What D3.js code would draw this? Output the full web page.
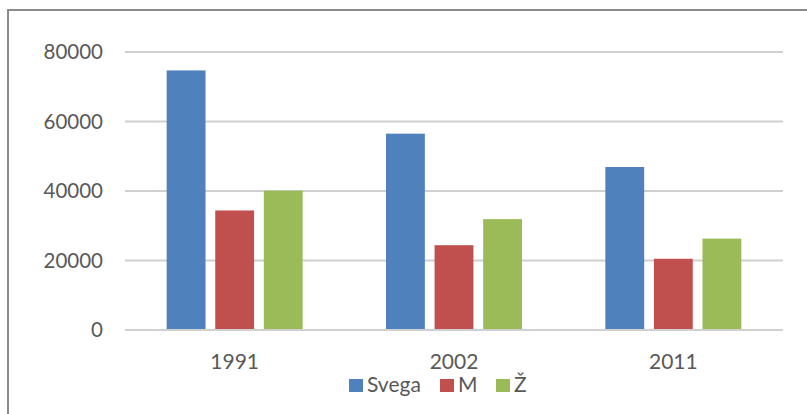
<!DOCTYPE html>
<html>
<head>
<meta charset="utf-8">
<script src="https://cdn.jsdelivr.net/npm/d3@7/dist/d3.min.js"></script>
<style>
    html, body { margin: 0; padding: 0; background: #fff; }
    svg text { font-family: Lato, 'Open Sans', sans-serif; fill: #595959; }
</style>
</head>
<body>
<svg id="chart" width="807" height="414"></svg>
<script>
const years = ['1991', '2002', '2011'];
const seriesNames = ['Svega', 'M', 'Ž'];
const seriesColors = ['#4F81BD', '#C0504D', '#9BBB59'];
const svega = [74700, 56500, 46900];
const muski = [34400, 24400, 20500];
const zenski = [40100, 31900, 26300];
const yTicks = [0, 20000, 40000, 60000, 80000];

const seriesValues = [svega, muski, zenski];

const svg = d3.select('#chart');

// outer frame (only top and left edges are visible in the crop)
svg.append('path')
    .attr('d', 'M8,414 L8,10 L807,10')
    .attr('fill', 'none')
    .attr('stroke', '#8c8c8c')
    .attr('stroke-width', 2);

const plot = { left: 125, right: 783, top: 52, bottom: 330 };

const y = d3.scaleLinear()
    .domain([0, 80000])
    .range([plot.bottom, plot.top]);

const x0 = d3.scaleBand()
    .domain(years)
    .range([plot.left, plot.right])
    .paddingInner(0.38)
    .paddingOuter(0.19);

const x1 = d3.scaleBand()
    .domain(seriesNames)
    .range([0, x0.bandwidth()])
    .paddingInner(0.2);

// gridlines
svg.append('g')
    .selectAll('line')
    .data(yTicks)
    .enter()
    .append('line')
    .attr('x1', plot.left)
    .attr('x2', plot.right)
    .attr('y1', (d) => y(d))
    .attr('y2', (d) => y(d))
    .attr('stroke', '#d0d0d0')
    .attr('stroke-width', 2);

// y axis labels
const yAxis = d3.axisLeft(y).tickValues(yTicks).tickSize(0).tickPadding(0)
    .tickFormat(d3.format('d'));
svg.append('g')
    .attr('transform', 'translate(103,0)')
    .call(yAxis)
    .call((g) => g.select('.domain').remove())
    .selectAll('text')
    .attr('font-size', 20.5)
    .attr('dy', '0.34em');

// bars
const rows = years.map((year, i) => ({
    year: year,
    values: seriesNames.map((name, j) => ({ name: name, value: seriesValues[j][i], color: seriesColors[j] })),
}));

svg.append('g')
    .selectAll('g')
    .data(rows)
    .enter()
    .append('g')
    .attr('transform', (d) => 'translate(' + x0(d.year) + ',0)')
    .selectAll('rect')
    .data((d) => d.values)
    .enter()
    .append('rect')
    .attr('x', (d) => x1(d.name))
    .attr('width', x1.bandwidth())
    .attr('y', (d) => y(d.value))
    .attr('height', (d) => y(0) - y(d.value))
    .attr('fill', (d) => d.color);

// baseline over bars
svg.append('line')
    .attr('x1', plot.left)
    .attr('x2', plot.right)
    .attr('y1', y(0))
    .attr('y2', y(0))
    .attr('stroke', '#d0d0d0')
    .attr('stroke-width', 2);

// x axis labels
const xAxis = d3.axisBottom(x0).tickSize(0).tickPadding(0);
svg.append('g')
    .attr('transform', 'translate(0,' + 369 + ')')
    .call(xAxis)
    .call((g) => g.select('.domain').remove())
    .selectAll('text')
    .attr('font-size', 21)
    .attr('dy', 0);

// legend
const legendX = [349, 440, 496];
const legend = svg.append('g')
    .selectAll('g')
    .data(seriesNames)
    .enter()
    .append('g')
    .attr('transform', (d, i) => 'translate(' + legendX[i] + ',379)');

legend.append('rect')
    .attr('width', 14)
    .attr('height', 13)
    .attr('fill', (d, i) => seriesColors[i]);

legend.append('text')
    .attr('x', 18)
    .attr('y', 13)
    .attr('font-size', 21)
    .text((d) => d);
</script>
</body>
</html>
